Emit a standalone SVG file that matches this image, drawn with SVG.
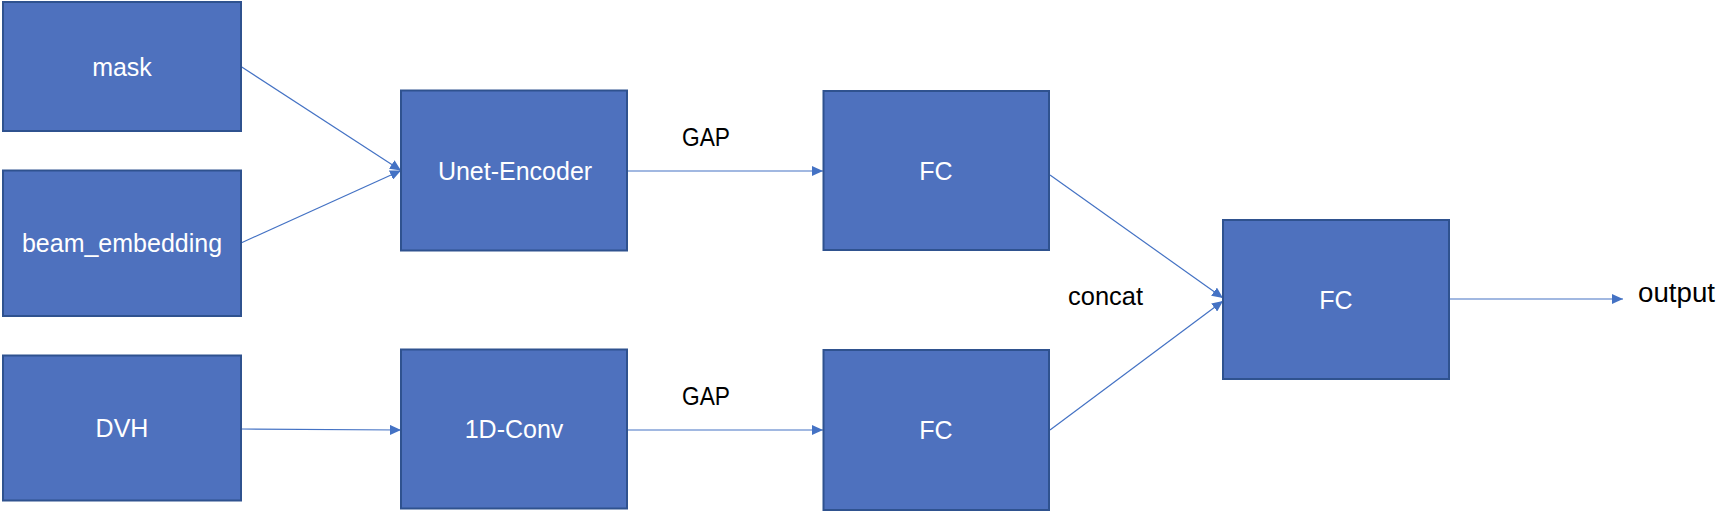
<svg xmlns="http://www.w3.org/2000/svg" width="1734" height="512" viewBox="0 0 1734 512">
<defs>
<marker id="arr" markerUnits="userSpaceOnUse" markerWidth="12" markerHeight="10" refX="11" refY="5" orient="auto">
<path d="M0,0 L11,5 L0,10 z" fill="#4472C4"/>
</marker>
<style>
.box{fill:#4E71BE;stroke:#2F528F;stroke-width:2}
.nl{font-family:"Liberation Sans",Arial,sans-serif;font-size:25px;fill:#ffffff;text-anchor:middle;dominant-baseline:central}
.lb{font-family:"Liberation Sans",Arial,sans-serif;font-size:25px;fill:#000000}
.cn{stroke:#4472C4;stroke-width:1.2;fill:none;marker-end:url(#arr)}
</style>
</defs>
<rect width="1734" height="512" fill="#ffffff"/>
<g id="connectors">
<line class="cn" x1="241" y1="66.5" x2="401" y2="170.5"/>
<line class="cn" x1="241" y1="243" x2="401" y2="170.5"/>
<line class="cn" x1="241" y1="429" x2="401" y2="430"/>
<line class="cn" x1="628" y1="171" x2="823" y2="171"/>
<line class="cn" x1="628" y1="430" x2="823" y2="430"/>
<line class="cn" x1="1050" y1="175" x2="1223" y2="298"/>
<line class="cn" x1="1050" y1="430" x2="1223" y2="301"/>
<line class="cn" x1="1449" y1="299" x2="1623" y2="299"/>
</g>
<g id="node-mask"><rect class="box" x="3" y="2" width="238" height="129"/><text class="nl" x="122" y="66.5">mask</text></g>
<g id="node-beam"><rect class="box" x="3" y="170.5" width="238" height="145.5"/><text class="nl" x="122" y="243">beam_embedding</text></g>
<g id="node-dvh"><rect class="box" x="3" y="355.5" width="238" height="145"/><text class="nl" x="122" y="428">DVH</text></g>
<g id="node-unet"><rect class="box" x="401" y="90.5" width="226" height="160"/><text class="nl" x="515" y="170.5">Unet-Encoder</text></g>
<g id="node-conv"><rect class="box" x="401" y="349.5" width="226" height="159"/><text class="nl" x="514" y="429">1D-Conv</text></g>
<g id="node-fc1"><rect class="box" x="823.5" y="91" width="225.5" height="159"/><text class="nl" x="936" y="170.5">FC</text></g>
<g id="node-fc2"><rect class="box" x="823.5" y="350" width="225.5" height="160"/><text class="nl" x="936" y="430">FC</text></g>
<g id="node-fc3"><rect class="box" x="1223" y="220" width="226" height="159"/><text class="nl" x="1336" y="299.5">FC</text></g>
<g id="labels">
<text class="lb" x="682" y="146" textLength="48" lengthAdjust="spacingAndGlyphs">GAP</text>
<text class="lb" x="682" y="405" textLength="48" lengthAdjust="spacingAndGlyphs">GAP</text>
<text class="lb" x="1068" y="305" textLength="75" lengthAdjust="spacingAndGlyphs">concat</text>
<text class="lb" x="1638" y="302" style="font-size:27px" textLength="77" lengthAdjust="spacingAndGlyphs">output</text>
</g>
</svg>
